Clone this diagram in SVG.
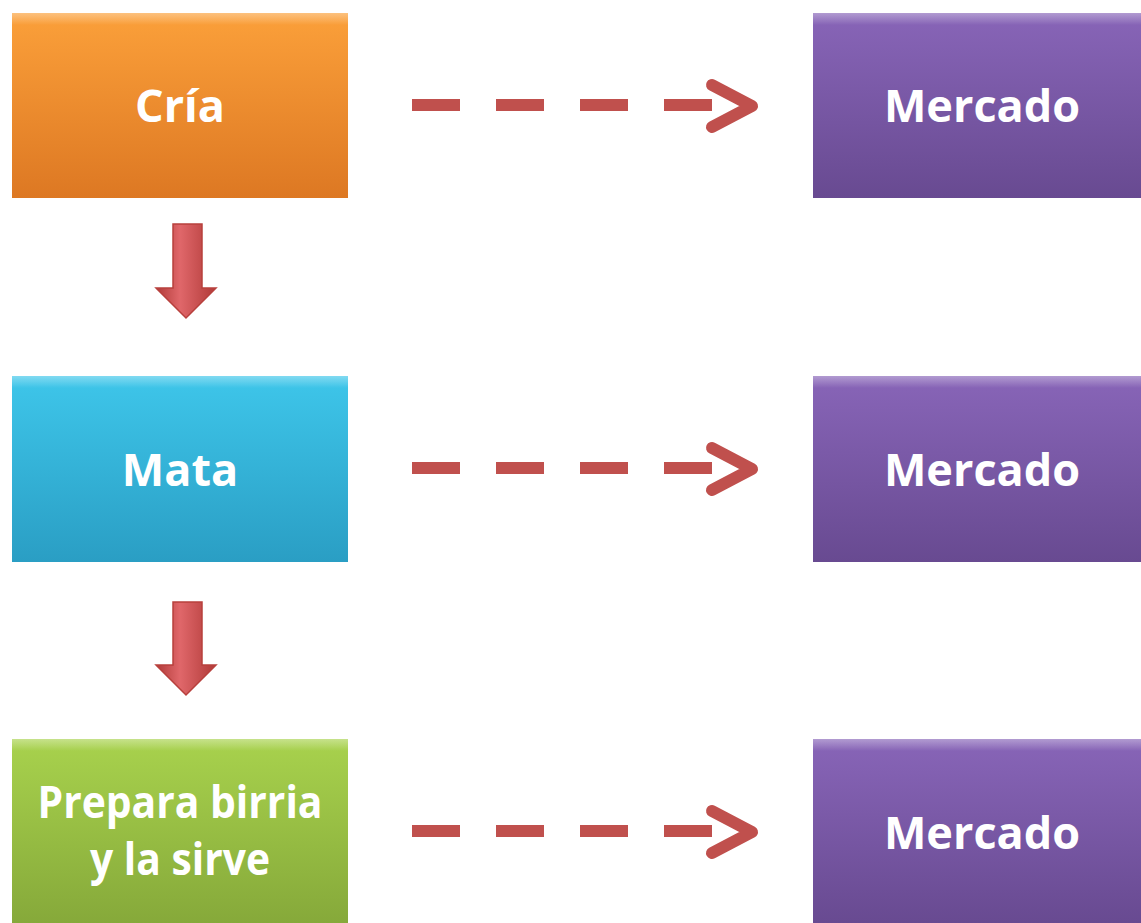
<svg xmlns="http://www.w3.org/2000/svg" width="1141" height="923" viewBox="0 0 1141 923">
<style>
.lbl{font-family:"Open Sans","Liberation Sans",sans-serif;font-weight:bold;font-size:45px;fill:#ffffff;text-anchor:middle}
.dash{stroke:#c0504d;stroke-width:12;fill:none;stroke-dasharray:48 36}
.head{stroke:#c0504d;stroke-width:12;fill:none;stroke-linecap:round;stroke-linejoin:round}
.down{fill:url(#gRed);stroke:#b8403d;stroke-width:1.5}
</style>
<defs>
<linearGradient id="gOrange" x1="0" y1="0" x2="0" y2="1"><stop offset="0" stop-color="#fba03a"/><stop offset="1" stop-color="#dd7823"/></linearGradient>
<linearGradient id="gBlue" x1="0" y1="0" x2="0" y2="1"><stop offset="0" stop-color="#3ec6ea"/><stop offset="1" stop-color="#2a9ec4"/></linearGradient>
<linearGradient id="gGreen" x1="0" y1="0" x2="0" y2="1"><stop offset="0" stop-color="#a8d24d"/><stop offset="1" stop-color="#86a93a"/></linearGradient>
<linearGradient id="gPurple" x1="0" y1="0" x2="0" y2="1"><stop offset="0" stop-color="#8865b8"/><stop offset="1" stop-color="#684a91"/></linearGradient>
<linearGradient id="gRed" x1="0" y1="0" x2="1" y2="0"><stop offset="0" stop-color="#b03a38"/><stop offset="0.4" stop-color="#e0676a"/><stop offset="1" stop-color="#b03a38"/></linearGradient>
<linearGradient id="gTop" x1="0" y1="0" x2="0" y2="1"><stop offset="0" stop-color="#ffffff" stop-opacity="0.35"/><stop offset="1" stop-color="#ffffff" stop-opacity="0"/></linearGradient>
</defs>
<g id="node-cria">
<rect x="12" y="13" width="336" height="185" fill="url(#gOrange)"/>
<rect x="12" y="13" width="336" height="12" fill="url(#gTop)"/>
<text class="lbl" x="180" y="122">Cría</text>
</g>
<g id="node-mata">
<rect x="12" y="376" width="336" height="186" fill="url(#gBlue)"/>
<rect x="12" y="376" width="336" height="12" fill="url(#gTop)"/>
<text class="lbl" x="180" y="486">Mata</text>
</g>
<g id="node-prepara">
<rect x="12" y="739" width="336" height="184" fill="url(#gGreen)"/>
<rect x="12" y="739" width="336" height="12" fill="url(#gTop)"/>
<text class="lbl" x="180" y="818" textLength="285" lengthAdjust="spacingAndGlyphs">Prepara birria</text>
<text class="lbl" x="180" y="875" textLength="180" lengthAdjust="spacingAndGlyphs">y la sirve</text>
</g>
<g id="node-mercado1">
<rect x="813" y="13" width="328" height="185" fill="url(#gPurple)"/>
<rect x="813" y="13" width="328" height="12" fill="url(#gTop)"/>
<text class="lbl" x="982" y="122">Mercado</text>
</g>
<g id="node-mercado2">
<rect x="813" y="376" width="328" height="186" fill="url(#gPurple)"/>
<rect x="813" y="376" width="328" height="12" fill="url(#gTop)"/>
<text class="lbl" x="982" y="486">Mercado</text>
</g>
<g id="node-mercado3">
<rect x="813" y="739" width="328" height="184" fill="url(#gPurple)"/>
<rect x="813" y="739" width="328" height="12" fill="url(#gTop)"/>
<text class="lbl" x="982" y="849">Mercado</text>
</g>
<g id="connectors">
<line class="dash" x1="412" y1="105" x2="712" y2="105"/>
<polyline class="head" points="712,85 752,106 712,127"/>
<line class="dash" x1="412" y1="468" x2="712" y2="468"/>
<polyline class="head" points="712,448 752,469 712,490"/>
<line class="dash" x1="412" y1="831" x2="712" y2="831"/>
<polyline class="head" points="712,811 752,832 712,853"/>
<polygon class="down" points="173,224 202,224 202,288 216,288 186,318 156,288 173,288"/>
<polygon class="down" points="173,602 202,602 202,665 216,665 186,695 156,665 173,665"/>
</g>
</svg>
